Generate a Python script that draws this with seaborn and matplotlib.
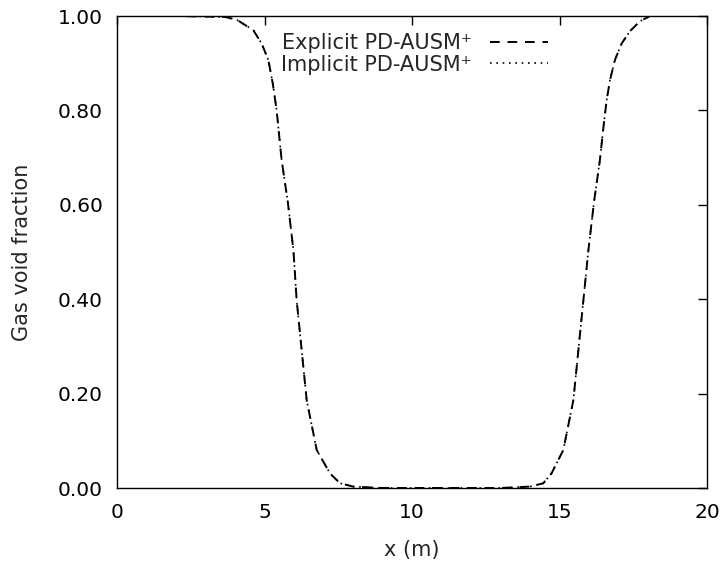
import matplotlib
matplotlib.use("Agg")
import matplotlib.pyplot as plt
import seaborn as sns
import pandas as pd

x_m = [0, 2, 3.66, 4.06, 4.62, 4.90, 5.13, 5.28, 5.41, 5.58, 5.79, 5.98, 6.09, 6.26, 6.43, 6.77,
       7.22, 7.56, 8.01, 9, 10, 12, 13, 14.0, 14.45, 14.73, 15.13, 15.47, 15.64, 15.81, 15.98,
       16.17, 16.37, 16.49, 16.60, 16.71, 16.88, 17.11, 17.39, 17.73, 18.07, 19, 20]
void_explicit = [1, 1, 0.998, 0.992, 0.970, 0.942, 0.907, 0.857, 0.801, 0.695, 0.606, 0.504, 0.398, 0.292, 0.186, 0.0805,
                 0.031, 0.010, 0.003, 0, 0, 0, 0, 0.003, 0.010, 0.031, 0.0805, 0.186, 0.292, 0.398, 0.504,
                 0.606, 0.695, 0.765, 0.822, 0.864, 0.907, 0.942, 0.968, 0.989, 1, 1, 1]
void_implicit = list(void_explicit)

labels = ["Explicit PD-AUSM\u207a", "Implicit PD-AUSM\u207a"]
x_ticks = [0, 5, 10, 15, 20]
y_ticks = [0.0, 0.2, 0.4, 0.6, 0.8, 1.0]

sns.set_theme(style="white")
plt.rcParams['font.family'] = ['DejaVu Sans']

df_e = pd.DataFrame({"x": x_m, "y": void_explicit})
df_i = pd.DataFrame({"x": x_m, "y": void_implicit})

fig = plt.figure(figsize=(7.28, 5.65), dpi=100)
ax = fig.add_axes([117 / 728, 1 - 488 / 565, 590 / 728, 472 / 565])

sns.lineplot(data=df_e, x="x", y="y", ax=ax, color="black", lw=1.4, label=labels[0],
             linestyle=(0, (5, 4)))
sns.lineplot(data=df_i, x="x", y="y", ax=ax, color="black", lw=1.2, label=labels[1],
             linestyle=(0, (1, 2.8)))

ax.set_xlim(0, 20)
ax.set_ylim(0, 1)
ax.set_xticks(x_ticks)
ax.set_yticks(y_ticks)
ax.set_yticklabels([f"{v:.2f}" for v in y_ticks])
ax.set_xlabel("x (m)", fontsize=15, labelpad=13)
ax.set_ylabel("Gas void fraction", fontsize=15, labelpad=18.5)
ax.tick_params(direction="in", length=6.5, width=1, top=True, right=True, labelsize=14.5,
               colors="black")
ax.tick_params(axis="y", pad=10)
ax.tick_params(axis="x", pad=11)
for s in ax.spines.values():
    s.set_color("black")
    s.set_linewidth(1)

leg = ax.legend(loc="upper right", bbox_to_anchor=(0.7305, 0.963), frameon=False, markerfirst=False,
                fontsize=15, handlelength=2.8, labelspacing=0.05, borderaxespad=0, borderpad=0,
                handletextpad=0.87)

fig.savefig("out.png", dpi=100)
